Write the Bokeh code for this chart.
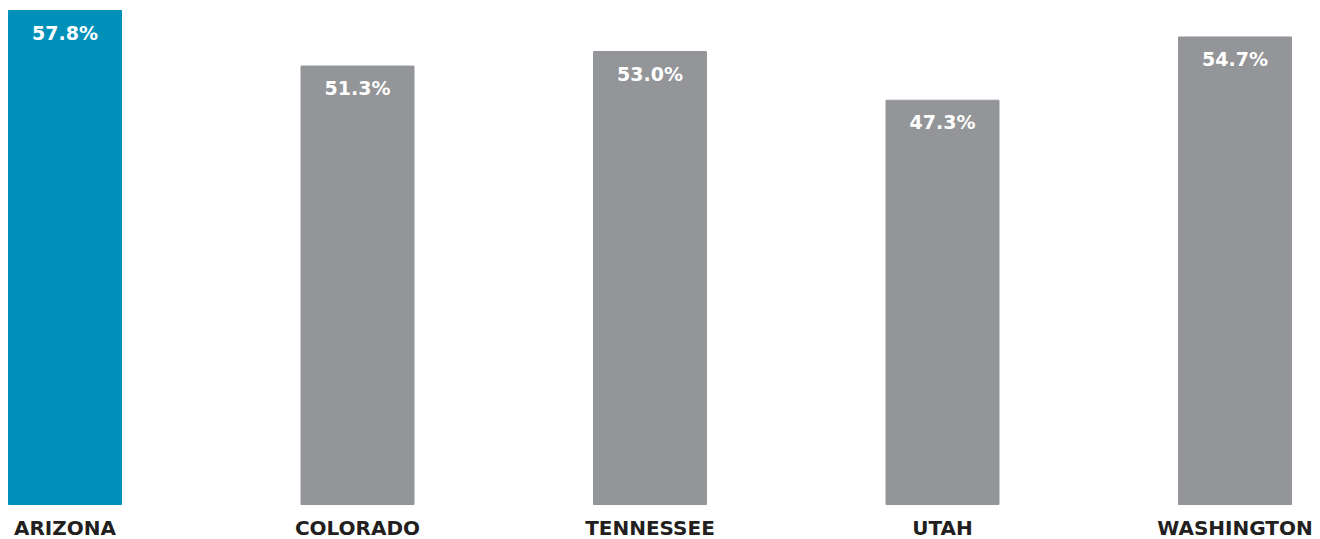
from bokeh.plotting import figure
from bokeh.models import ColumnDataSource, Range1d
from bokeh.core.properties import value
from bokeh.embed import file_html
from bokeh.resources import INLINE

states = ["ARIZONA", "COLORADO", "TENNESSEE", "UTAH", "WASHINGTON"]
values = [57.8, 51.3, 53.0, 47.3, 54.7]
labels = ["57.8%", "51.3%", "53.0%", "47.3%", "54.7%"]
colors = ["#0091BA", "#939598", "#939598", "#939598", "#939598"]

W, H = 1320, 539
px_per_unit = 494 / 57.8
y_end = 57.8 + 10 / px_per_unit
y_start = -(35 / px_per_unit)
x_start = -(64.5 / 292.5)
x_end = (W - 64.5) / 292.5

xs = list(range(len(states)))
src = ColumnDataSource(dict(x=xs, top=values, lab=labels, col=colors, st=states,
                            ylab=[v - 22 / px_per_unit for v in values],
                            ycat=[-(23 / px_per_unit)] * len(states)))

p = figure(width=W, height=H, output_backend="svg", toolbar_location=None,
           x_range=Range1d(x_start, x_end), y_range=Range1d(y_start, y_end),
           min_border=0, outline_line_color=None)
p.axis.visible = False
p.grid.visible = False

p.vbar(x="x", top="top", bottom=0, width=113 / 292.5, color="col", source=src)
p.text(x="x", y="ylab", text="lab", source=src, text_align="center", text_baseline="middle",
       text_color="white", text_font=value("DejaVu Sans"), text_font_style="bold", text_font_size="19px")
p.text(x="x", y="ycat", text="st", source=src, text_align="center", text_baseline="middle",
       text_color="#231F20", text_font=value("DejaVu Sans"), text_font_style="bold", text_font_size="20px")

open("out.html", "w").write(file_html(p, INLINE))
